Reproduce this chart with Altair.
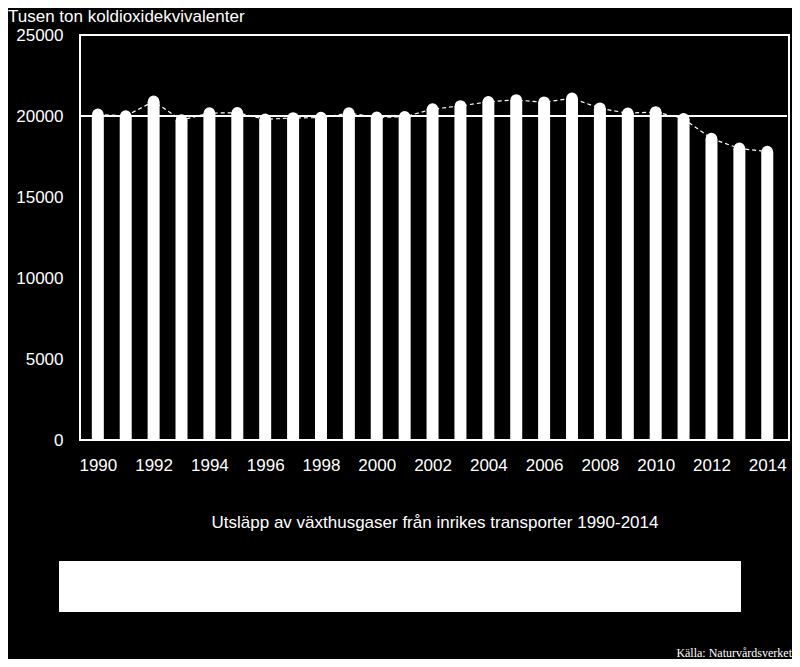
import altair as alt
import pandas as pd

years = list(range(1990, 2015))
values = [20100, 20000, 20900, 19750, 20180, 20200, 19800, 19880, 19900, 20180,
          19920, 19950, 20430, 20620, 20880, 20990, 20850, 21090, 20480, 20170,
          20250, 19830, 18600, 18000, 17800]
y_ticks = [0, 5000, 10000, 15000, 20000, 25000]
x_ticks = list(range(1990, 2015, 2))

y_title = "Tusen ton koldioxidekvivalenter"
caption = "Utsläpp av växthusgaser från inrikes transporter 1990-2014"
source = "Källa: Naturvårdsverket"

df = pd.DataFrame({"year": years, "value": values})

W, H = 709, 405
FONT = "Liberation Sans"

xs = alt.Scale(domain=[1989.54, 2014.6], nice=False, zero=False)
ys = alt.Scale(domain=[0, 25000], nice=False)

x_enc = alt.X("year:Q", scale=xs,
              axis=alt.Axis(values=x_ticks, format="d", title=None, grid=False,
                            ticks=False, domain=False, labelColor="white",
                            labelFont=FONT, labelFontSize=17, labelPadding=17,
                            labelFlush=False))
y_enc = alt.Y("value:Q", scale=ys,
              axis=alt.Axis(values=y_ticks, format="d", title=None, grid=False,
                            ticks=False, domain=False, labelColor="white",
                            labelFont=FONT, labelFontSize=17, labelPadding=17))

base = alt.Chart(df)
bars = base.mark_bar(color="white", width=12).encode(x=x_enc, y=y_enc)
line = base.mark_line(color="white", strokeDash=[4, 3], strokeWidth=1.2).encode(
    x=alt.X("year:Q", scale=xs), y=alt.Y("value:Q", scale=ys))
pts = base.mark_circle(color="white", opacity=1, size=135).encode(
    x=alt.X("year:Q", scale=xs), y=alt.Y("value:Q", scale=ys))

one = pd.DataFrame({"a": [0]})
rule = alt.Chart(one).mark_rule(color="white", strokeWidth=2).encode(
    y=alt.datum(20000, scale=ys), x=alt.value(0), x2=alt.value(707))

title_t = alt.Chart(pd.DataFrame({"t": [y_title]})).mark_text(
    color="white", font=FONT, fontSize=17, align="left", baseline="top").encode(
    x=alt.value(-72), y=alt.value(-26), text="t:N")
cap_t = alt.Chart(pd.DataFrame({"t": [caption]})).mark_text(
    color="white", font=FONT, fontSize=17, align="center", baseline="middle").encode(
    x=alt.value(355), y=alt.value(488), text="t:N")
box = alt.Chart(one).mark_rect(color="white").encode(
    x=alt.value(-21), x2=alt.value(661), y=alt.value(526), y2=alt.value(577))
src_t = alt.Chart(pd.DataFrame({"t": [source]})).mark_text(
    color="white", font="Liberation Serif", fontSize=12, align="right",
    baseline="alphabetic").encode(
    x=alt.value(712), y=alt.value(622), text="t:N")

chart = alt.layer(rule, bars, line, pts, title_t, cap_t, box, src_t).properties(
    width=W, height=H,
    autosize=alt.AutoSizeParams(type="none"),
    padding={"left": 72, "top": 27, "right": 3, "bottom": 219},
    background="black",
).configure_view(stroke="white", strokeWidth=2)

chart.save("out.html", embed_options={"renderer": "svg", "actions": False})
